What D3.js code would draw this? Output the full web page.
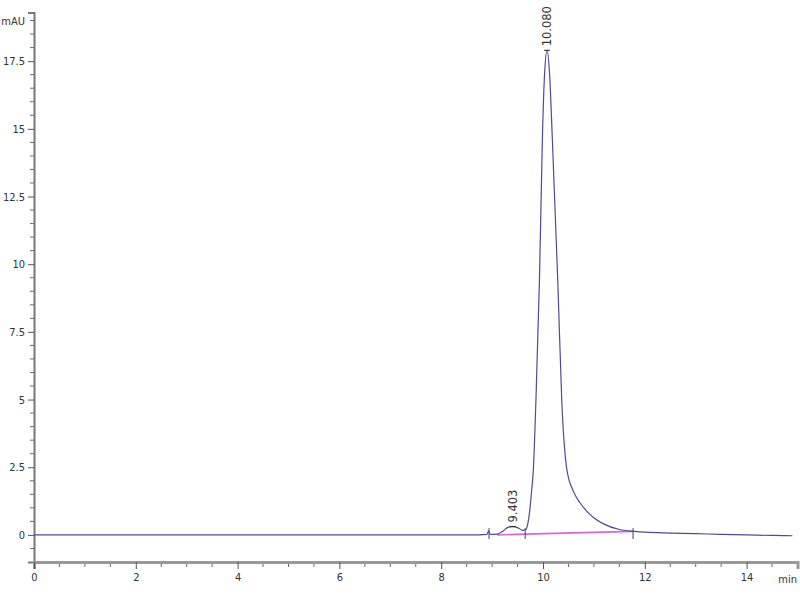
<!DOCTYPE html>
<html>
<head>
<meta charset="utf-8">
<script src="https://cdn.jsdelivr.net/npm/d3@7"></script>
<style>
  body { margin: 0; background: #fff; }
  svg { display: block; }
  .lbl, .tick text { font-family: "DejaVu Sans", sans-serif; font-stretch: condensed; font-size: 11px; fill: #333; }
</style>
</head>
<body>
<div id="chart"></div>
<script>
// chromatogram trace (time in min, signal in mAU)
const times = [0, 1, 2, 3, 4, 5, 6, 7, 8, 8.6, 8.9, 8.93, 8.96, 9.1, 9.2, 9.3, 9.4, 9.5, 9.6, 9.66,
  9.7, 9.74, 9.77, 9.81, 9.86, 9.93, 9.99, 10.03, 10.08, 10.13, 10.18, 10.29, 10.37, 10.47, 10.6,
  10.73, 10.85, 10.98, 11.2, 11.5, 11.8, 12.0, 12.5, 13, 13.5, 14, 14.5, 14.9];
const signal = [0, 0, 0, 0, 0, 0, 0, 0, 0, 0, 0.02, 0.15, 0.02, 0.03, 0.12, 0.27, 0.31, 0.27, 0.17, 0.2,
  0.4, 0.9, 1.5, 2.4, 4.9, 9.4, 14.8, 17.0, 17.9, 17.0, 14.8, 9.4, 4.9, 2.4, 1.6,
  1.18, 0.9, 0.66, 0.4, 0.2, 0.13, 0.1, 0.07, 0.05, 0.02, 0, -0.02, -0.03];

// integration baselines
const baseTimes = [9.1, 9.65, 11.77];
const baseValues = [0.0, 0.03, 0.13];
const boundTimes = [8.94, 9.65, 11.77];

// peak labels
const peakTimes = [9.403, 10.080];
const peakValues = [0.31, 17.9];
const peakLabels = ["9.403", "10.080"];

const xMajor = [0, 2, 4, 6, 8, 10, 12, 14];
const yMajor = [0, 2.5, 5, 7.5, 10, 12.5, 15, 17.5];

const width = 800, height = 600;
const svg = d3.select('#chart').append('svg')
  .attr('width', width).attr('height', height);

const x = d3.scaleLinear().domain([0, 15]).range([34, 797.5]);
const y = d3.scaleLinear().domain([-1, 19.3]).range([562, 12.4]);

// minor ticks every 0.5
const xMinor = d3.range(0, 15.01, 0.5).filter(v => !xMajor.includes(v));
const yMinor = d3.range(-0.5, 19.01, 0.5).filter(v => !yMajor.includes(v));

// y axis
const yAxis = svg.append('g').attr('transform', 'translate(34,0)');
yAxis.selectAll('line.minor').data(yMinor).enter().append('line')
  .attr('class', 'minor')
  .attr('x1', -4).attr('x2', 0)
  .attr('y1', d => y(d)).attr('y2', d => y(d))
  .attr('stroke', '#666').attr('stroke-width', 1);
yAxis.call(d3.axisLeft(y).tickValues(yMajor).tickSize(6).tickPadding(3).tickFormat(d3.format('')))
  .call(g => g.select('.domain').attr('stroke', '#777').attr('stroke-width', 2))
  .call(g => g.selectAll('.tick line').attr('stroke', '#555'));
svg.append('text')
  .attr('class', 'lbl')
  .attr('x', 25).attr('y', y(19) + 4)
  .attr('text-anchor', 'end')
  .text('mAU');

// x axis
const xAxis = svg.append('g').attr('transform', 'translate(0,562)');
xAxis.selectAll('line.minor').data(xMinor).enter().append('line')
  .attr('class', 'minor')
  .attr('x1', d => x(d)).attr('x2', d => x(d))
  .attr('y1', 0).attr('y2', 5)
  .attr('stroke', '#666').attr('stroke-width', 1);
xAxis.call(d3.axisBottom(x).tickValues(xMajor).tickSize(7).tickPadding(4).tickFormat(d3.format('')))
  .call(g => g.select('.domain').attr('stroke', '#999').attr('stroke-width', 3))
  .call(g => g.selectAll('.tick line').attr('stroke', '#555'));
svg.append('text')
  .attr('class', 'lbl')
  .attr('x', 797).attr('y', 583)
  .attr('text-anchor', 'end')
  .text('min');

// baseline (pink)
const baseData = baseTimes.map((t, i) => ({ t, v: baseValues[i] }));
svg.append('path')
  .datum(baseData)
  .attr('fill', 'none')
  .attr('stroke', '#d966d9')
  .attr('stroke-width', 1.6)
  .attr('d', d3.line().x(d => x(d.t)).y(d => y(d.v)));

// peak boundary marks
svg.selectAll('line.bound').data(boundTimes).enter().append('line')
  .attr('class', 'bound')
  .attr('x1', d => x(d)).attr('x2', d => x(d))
  .attr('y1', y(0.25)).attr('y2', y(-0.15))
  .attr('stroke', '#444').attr('stroke-width', 1);

// trace
const data = times.map((t, i) => ({ t, v: signal[i] }));
svg.append('path')
  .datum(data)
  .attr('fill', 'none')
  .attr('stroke', '#4b4b99')
  .attr('stroke-width', 1.2)
  .attr('d', d3.line().curve(d3.curveMonotoneX).x(d => x(d.t)).y(d => y(d.v)));

// apex marker + labels
svg.selectAll('line.apex').data(peakTimes).enter().append('line')
  .attr('class', 'apex')
  .attr('x1', d => x(d) - 3).attr('x2', d => x(d) + 3)
  .attr('y1', (d, i) => y(peakValues[i])).attr('y2', (d, i) => y(peakValues[i]))
  .attr('stroke', '#222').attr('stroke-width', 1);

svg.selectAll('text.peak').data(peakTimes).enter().append('text')
  .attr('class', 'peak')
  .attr('transform', (d, i) => `translate(${x(d) + 4},${y(peakValues[i]) - 4}) rotate(-90)`)
  .style('font-family', '"DejaVu Sans", sans-serif')
  .style('font-size', '11.5px').attr('fill', '#333')
  .text((d, i) => peakLabels[i]);
</script>
</body>
</html>
